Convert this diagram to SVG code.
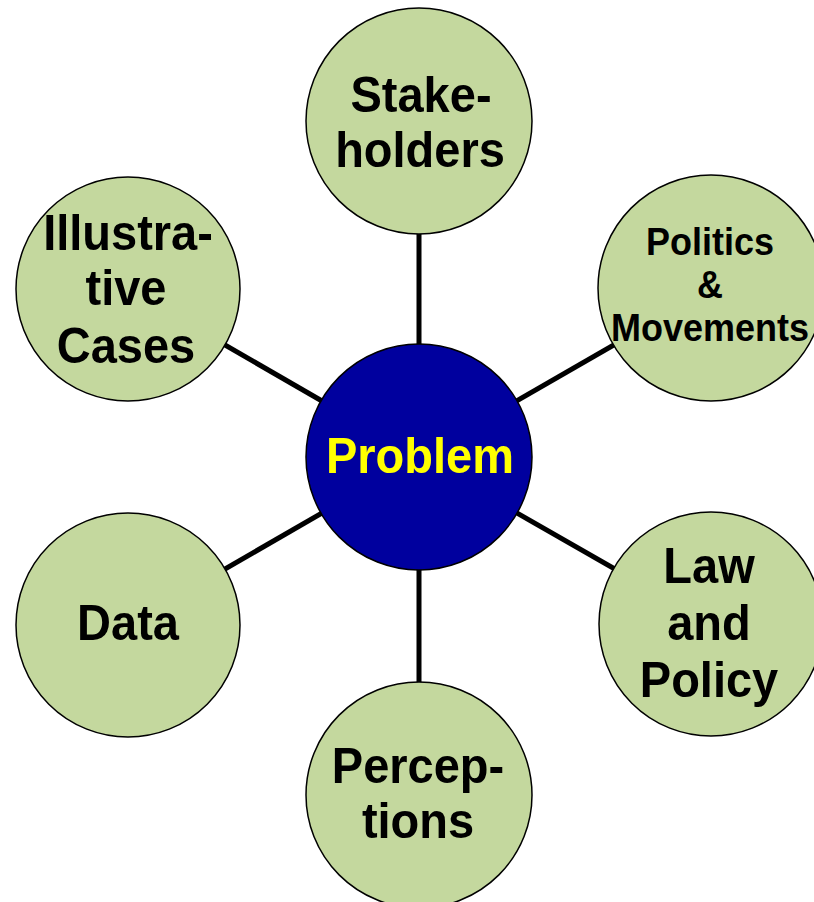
<svg xmlns="http://www.w3.org/2000/svg" width="814" height="902" viewBox="0 0 814 902">
<style>
.leaf{fill:#C4D89E;stroke:#000;stroke-width:1.5}
.hub{fill:#00009E;stroke:#000;stroke-width:1.5}
.t{font-family:"Liberation Sans",Arial,sans-serif;font-weight:bold;font-size:47px;fill:#000;text-anchor:middle}
.s{font-size:36px}
.y{fill:#FFFF00}
.c{stroke:#000;stroke-width:5;fill:none}
</style>
<rect width="814" height="902" fill="#fff"/>
<g id="connectors">
<line class="c" x1="419" y1="457" x2="419" y2="121"/>
<line class="c" x1="419" y1="457" x2="711" y2="289"/>
<line class="c" x1="419" y1="457" x2="128" y2="289"/>
<line class="c" x1="419" y1="457" x2="128" y2="625"/>
<line class="c" x1="419" y1="457" x2="711" y2="624"/>
<line class="c" x1="419" y1="457" x2="419" y2="795"/>
</g>
<g id="stakeholders">
<circle class="leaf" cx="419" cy="121" r="113"/>
<text class="t" transform="translate(421,112) scale(1,1.08)">Stake-</text>
<text class="t" transform="translate(420,167) scale(1,1.08)">holders</text>
</g>
<g id="politics">
<circle class="leaf" cx="711" cy="288" r="113"/>
<text class="t s" transform="translate(710,255) scale(1,1.08)">Politics</text>
<text class="t s" transform="translate(710,298) scale(1,1.08)">&amp;</text>
<text class="t s" transform="translate(710,341) scale(1,1.08)">Movements</text>
</g>
<g id="illustrative">
<circle class="leaf" cx="128" cy="289" r="112"/>
<text class="t" transform="translate(128,250) scale(1,1.08)">Illustra-</text>
<text class="t" transform="translate(126,305) scale(1,1.08)">tive</text>
<text class="t" transform="translate(126,363) scale(1,1.08)">Cases</text>
</g>
<g id="problem">
<circle class="hub" cx="419" cy="457" r="113"/>
<text class="t y" transform="translate(420,473) scale(1,1.08)">Problem</text>
</g>
<g id="data">
<circle class="leaf" cx="128" cy="625" r="112"/>
<text class="t" transform="translate(128,640) scale(1,1.08)">Data</text>
</g>
<g id="law">
<circle class="leaf" cx="711" cy="624" r="112"/>
<text class="t" transform="translate(709,583) scale(1,1.08)">Law</text>
<text class="t" transform="translate(709,640) scale(1,1.08)">and</text>
<text class="t" transform="translate(709,697) scale(1,1.08)">Policy</text>
</g>
<g id="perceptions">
<circle class="leaf" cx="419" cy="795" r="113"/>
<text class="t" transform="translate(418,783) scale(1,1.08)">Percep-</text>
<text class="t" transform="translate(418,838) scale(1,1.08)">tions</text>
</g>
</svg>
